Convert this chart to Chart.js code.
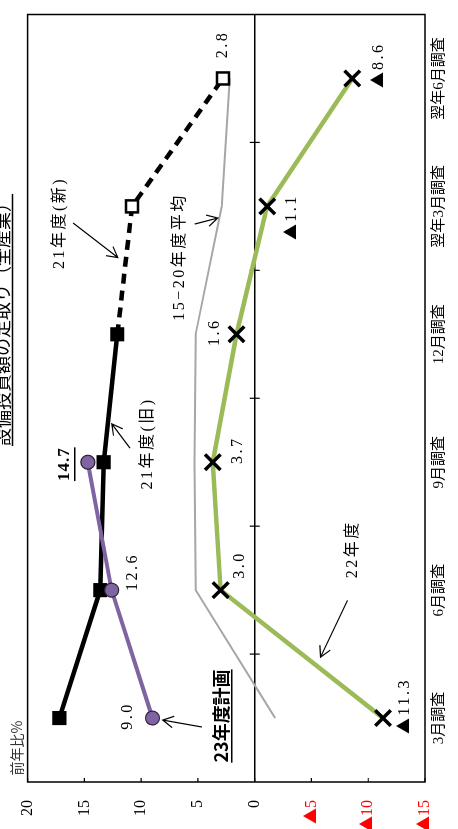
<!DOCTYPE html>
<html><head><meta charset="utf-8">
<script src="https://cdn.jsdelivr.net/npm/chart.js@4"></script>
<style>
@font-face{font-family:'TriMark';src:local('Noto Sans CJK JP Regular'),local('NotoSansCJKjp-Regular'),local('Noto Sans CJK JP'),local('DejaVu Sans');unicode-range:U+25B2;}
html,body{margin:0;padding:0;background:#fff;overflow:hidden;width:458px;height:829px;}
#wrap{position:absolute;left:0;top:829px;width:829px;height:458px;transform-origin:0 0;transform:rotate(-90deg);}
canvas{display:block;}
</style></head><body>
<div id="wrap"><canvas id="c" width="829" height="458"></canvas></div>
<script>
// ---- data ----
const categories = ['3月調査','6月調査','9月調査','12月調査','翌年3月調査','翌年6月調査'];
const fy21Old  = [17.2, 13.6, 13.3, 12.1, null, null];
const fy21New  = [null, null, null, 12.1, 10.8, 2.8];
const fy22     = [-11.3, 3.0, 3.7, 1.6, -1.1, -8.6];
const fy23Plan = [9.0, 12.6, 14.7, null, null, null];
const avg1520  = [-1.8, 5.2, 5.3, 5.2, 2.9, 2.2];
const valueTicks = [-15, -10, -5, 0, 5, 10, 15, 20];
const titleText = '設備投資額の足取り（全産業）';
const unitText = '前年比%';

const SERIF = "'TriMark','Liberation Serif','Noto Sans CJK JP',serif";
const fmt = v => v < 0 ? '▲' + (-v).toFixed(1) : v.toFixed(1);

// data labels: dataset key, index, offset (canvas px, unrotated), style
const dataLabels = [
  {s:'p', i:0, dx:2,  dy:-25},
  {s:'p', i:1, dx:18, dy:21},
  {s:'p', i:2, dx:-2, dy:-23, bold:true, underline:true},
  {s:'g', i:0, dx:12, dy:22},
  {s:'g', i:1, dx:25, dy:19},
  {s:'g', i:2, dx:12, dy:25},
  {s:'g', i:3, dx:2,  dy:-22},
  {s:'g', i:4, dx:-11,dy:25},
  {s:'g', i:5, dx:13, dy:26},
  {s:'n', i:5, dx:34, dy:0}
];
const seriesByKey = {p: fy23Plan, g: fy22, n: fy21New};

// series name annotations in data space (category index, value)
const notes = [
  {text:'21年度(新)', c:3.87, v:17.15, from:[3.87,16.0], to:[3.60,12.05]},
  {text:'21年度(旧)', c:2.146, v:9.41, from:[2.11,10.99], to:[2.30,12.58]},
  {text:'15−20年度平均', c:3.605, v:6.6, from:[3.862,5.28], to:[3.909,3.25]},
  {text:'22年度', c:1.32, v:-8.62, from:[0.92,-8.18], to:[0.476,-5.8]},
  {text:'23年度計画', c:0.016, v:2.99, from:[-0.07,4.66], to:[-0.016,8.09], bold:true, underline:true}
];

function arrow(ctx, x1, y1, x2, y2){
  ctx.beginPath(); ctx.moveTo(x1,y1); ctx.lineTo(x2,y2);
  const a = Math.atan2(y2-y1, x2-x1), L = 12, w = 0.5;
  ctx.moveTo(x2 - L*Math.cos(a-w), y2 - L*Math.sin(a-w));
  ctx.lineTo(x2, y2);
  ctx.lineTo(x2 - L*Math.cos(a+w), y2 - L*Math.sin(a+w));
  ctx.stroke();
}

const framePlugin = {
  id:'frame',
  beforeDatasetsDraw(chart){
    const {ctx, chartArea:a, scales:{x, y}} = chart;
    ctx.save();
    ctx.strokeStyle = '#000';
    ctx.lineWidth = 1.5;
    ctx.strokeRect(a.left, a.top, a.right-a.left, a.bottom-a.top);
    const y0 = y.getPixelForValue(0);
    ctx.beginPath(); ctx.moveTo(a.left, y0); ctx.lineTo(a.right, y0); ctx.stroke();
    ctx.lineWidth = 1.2;
    ctx.beginPath();
    for (let i = 0; i < categories.length-1; i++){
      const px = x.getPixelForValue(i+0.5);
      ctx.moveTo(px, y0-5); ctx.lineTo(px, y0+5);
    }
    valueTicks.forEach(v => { const py = y.getPixelForValue(v); ctx.moveTo(a.left, py); ctx.lineTo(a.left+4, py); });
    ctx.stroke();
    ctx.restore();
  },
  afterDatasetsDraw(chart){
    const {ctx, scales:{x, y}} = chart;
    ctx.save();
    ctx.textAlign = 'center';
    ctx.textBaseline = 'middle';
    ctx.fillStyle = '#000';
    ctx.strokeStyle = '#000';
    dataLabels.forEach(d => {
      const v = seriesByKey[d.s][d.i];
      const px = x.getPixelForValue(d.i) + d.dx, py = y.getPixelForValue(v) + d.dy;
      ctx.font = (d.bold ? 'bold 17px ' : '16px ') + SERIF;
      ctx.letterSpacing = d.bold ? '1px' : '2.5px';
      const t = fmt(v);
      ctx.fillText(t, px, py);
      if (d.underline){
        const w = ctx.measureText(t).width;
        ctx.lineWidth = 1.5;
        ctx.beginPath(); ctx.moveTo(px - w/2, py + 10); ctx.lineTo(px + w/2, py + 10); ctx.stroke();
      }
    });
    notes.forEach(n => {
      const px = x.getPixelForValue(n.c), py = y.getPixelForValue(n.v);
      ctx.font = n.bold ? "bold 18px 'Noto Sans CJK JP'" : '16px ' + SERIF;
      ctx.letterSpacing = n.bold ? '0px' : '2.5px';
      ctx.fillText(n.text, px, py);
      if (n.underline){
        const w = ctx.measureText(n.text).width;
        ctx.lineWidth = 1.5;
        ctx.beginPath(); ctx.moveTo(px - w/2, py + 11); ctx.lineTo(px + w/2, py + 11); ctx.stroke();
      }
      ctx.lineWidth = 1.2;
      arrow(ctx, x.getPixelForValue(n.from[0]), y.getPixelForValue(n.from[1]),
                 x.getPixelForValue(n.to[0]), y.getPixelForValue(n.to[1]));
    });
    ctx.restore();
  },
  afterDraw(chart){
    const {ctx} = chart;
    ctx.save();
    ctx.fillStyle = '#000'; ctx.strokeStyle = '#000';
    ctx.font = "18px 'Noto Sans CJK JP'";
    ctx.textAlign = 'center'; ctx.textBaseline = 'bottom';
    ctx.fillText(titleText, 509, 11);
    const w = ctx.measureText(titleText).width;
    ctx.lineWidth = 1.5;
    ctx.beginPath(); ctx.moveTo(509 - w/2, 12.5); ctx.lineTo(509 + w/2, 12.5); ctx.stroke();
    ctx.fillStyle = '#333';
    ctx.font = "14px 'Noto Sans CJK JP'";
    ctx.textBaseline = 'middle';
    ctx.fillText(unitText, 81, 17);
    ctx.restore();
  }
};

function build(){
  new Chart(document.getElementById('c'), {
    type:'line',
    data:{
      labels: categories,
      datasets:[
        {label:'23年度計画', data: fy23Plan, order:0, borderColor:'#8064A2', borderWidth:4,
         pointStyle:'circle', pointRadius:7, pointBackgroundColor:'#8064A2', pointBorderColor:'#2b2238', pointBorderWidth:1.2},
        {label:'21年度(旧)', data: fy21Old, order:1, borderColor:'#000', borderWidth:4.5,
         pointStyle:'rect', pointRadius:10, pointBackgroundColor:'#000', pointBorderColor:'#000', pointBorderWidth:0},
        {label:'21年度(新)', data: fy21New, order:2, borderColor:'#000', borderWidth:4.5, borderDash:[10,7],
         pointStyle:'rect', pointRadius:[0,0,0,0,8.5,8.5], pointBackgroundColor:'#fff', pointBorderColor:'#000', pointBorderWidth:2.5},
        {label:'22年度', data: fy22, order:3, borderColor:'#9BBB59', borderWidth:4.5,
         pointStyle:'crossRot', pointRadius:11, pointBorderColor:'#000', pointBorderWidth:3.5, pointBackgroundColor:'#000'},
        {label:'15-20年度平均', data: avg1520, order:4, borderColor:'#A6A6A6', borderWidth:2, pointRadius:0}
      ]
    },
    options:{
      responsive:false, animation:false,
      layout:{padding:{top:27, right:13, left:0, bottom:0}},
      elements:{line:{tension:0}},
      plugins:{legend:{display:false}, tooltip:{enabled:false}},
      scales:{
        x:{type:'category', offset:true,
           grid:{display:false, drawTicks:false}, border:{display:false},
           ticks:{font:{family:SERIF, size:15}, color:'#000', padding:5, maxRotation:0, minRotation:0, autoSkip:false},
           afterFit: s => { s.height = 33; }},
        y:{type:'linear', min:-15, max:20,
           afterBuildTicks: s => { s.ticks = valueTicks.map(v => ({value:v})); },
           grid:{display:false, drawTicks:false}, border:{display:false},
           ticks:{callback: v => v < 0 ? '▲' + (-v) : String(v),
                  color: c => (c.tick && c.tick.value < 0) ? '#FF0000' : '#000',
                  font:{family:SERIF, size:16}, padding:18},
           afterFit: s => { s.width = 47; }}
      }
    },
    plugins:[framePlugin]
  });
}
const fontReady = (document.fonts && document.fonts.load)
  ? Promise.all([document.fonts.load("16px 'TriMark'", '▲'), document.fonts.load("16px 'Noto Sans CJK JP'", '年')]).catch(() => null)
  : Promise.resolve();
Promise.race([fontReady, new Promise(r => setTimeout(r, 1500))]).then(build);
</script>
</body></html>
